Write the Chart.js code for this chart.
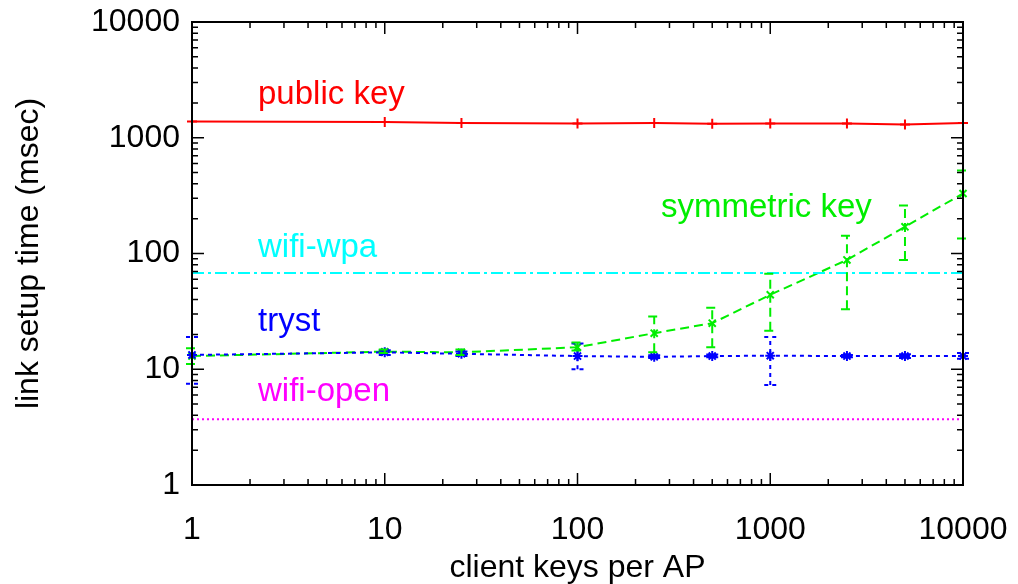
<!DOCTYPE html>
<html>
<head>
<meta charset="utf-8">
<script src="https://cdn.jsdelivr.net/npm/chart.js@4"></script>
<style>
  html, body { margin: 0; padding: 0; background: #fff; }
  #wrap { width: 1018px; height: 584px; }
</style>
</head>
<body>
<div id="wrap"><canvas id="myChart" width="1018" height="584"></canvas></div>
<script>
// client keys per AP
const keys = [1, 10, 25, 100, 250, 500, 1000, 2500, 5000, 10000];

// link setup time (msec)
const publicKey = [1380, 1370, 1340, 1330, 1340, 1320, 1330, 1330, 1300, 1340];

const symmetricKey = [13.0, 14.2, 14.0, 15.5, 20.5, 25, 44, 88, 170, 330];
const symmetricLow = [11.1, 13.8, 13.3, 14.5, 14.0, 15.5, 21.5, 33, 88, 135];
const symmetricHigh = [15.2, 14.8, 14.8, 17.0, 28.5, 34, 67, 142, 260, 520];

const tryst = [13.3, 14.0, 13.6, 13.0, 12.8, 13.0, 13.1, 13.0, 13.0, 13.0];
const trystLow = [7.5, 13.3, 13.0, 10.0, 12.5, 12.7, 7.3, 12.7, 12.5, 12.3];
const trystHigh = [19.0, 14.6, 14.2, 16.7, 13.2, 13.4, 19.0, 13.3, 13.5, 13.8];

const wifiWpa = 68;
const wifiOpen = 3.7;

const decades = [1, 10, 100, 1000, 10000];

const FONT = "'Liberation Sans', Arial, Helvetica, sans-serif";

const labels = [
  { text: "public key", x: 2.2, y: 2340, color: "#ff0000" },
  { text: "wifi-wpa", x: 2.2, y: 111, color: "#00ffff" },
  { text: "tryst", x: 2.2, y: 25.6, color: "#0000ff" },
  { text: "wifi-open", x: 2.2, y: 6.36, color: "#ff00ff" },
  { text: "symmetric key", x: 271, y: 247, color: "#00ee00" },
];

const errorBars = {
  id: "errorBars",
  afterDatasetsDraw(chart) {
    const ctx = chart.ctx;
    const xs = chart.scales.x;
    const ys = chart.scales.y;
    chart.data.datasets.forEach((ds) => {
      if (!ds.low) return;
      ctx.save();
      ctx.strokeStyle = ds.borderColor;
      ctx.lineWidth = 2;
      ctx.setLineDash(ds.borderDash || []);
      ds.data.forEach((p, i) => {
        const px = xs.getPixelForValue(p.x);
        const lo = ys.getPixelForValue(ds.low[i]);
        const hi = ys.getPixelForValue(ds.high[i]);
        ctx.beginPath();
        ctx.moveTo(px, lo);
        ctx.lineTo(px, hi);
        ctx.moveTo(px - 6, lo);
        ctx.lineTo(px + 6, lo);
        ctx.moveTo(px - 6, hi);
        ctx.lineTo(px + 6, hi);
        ctx.stroke();
      });
      ctx.restore();
    });
  },
};

const frame = {
  id: "frame",
  afterDraw(chart) {
    const ctx = chart.ctx;
    const a = chart.chartArea;
    const xs = chart.scales.x;
    const ys = chart.scales.y;
    ctx.save();
    ctx.strokeStyle = "#000";
    ctx.lineWidth = 1.5;
    const minor = [];
    decades.slice(0, 4).forEach((d) => {
      for (let k = 2; k <= 9; k++) minor.push(d * k);
    });
    ctx.beginPath();
    decades.forEach((v) => {
      const px = xs.getPixelForValue(v);
      ctx.moveTo(px, a.bottom); ctx.lineTo(px, a.bottom - 12);
      ctx.moveTo(px, a.top); ctx.lineTo(px, a.top + 12);
      const py = ys.getPixelForValue(v);
      ctx.moveTo(a.left, py); ctx.lineTo(a.left + 12, py);
      ctx.moveTo(a.right, py); ctx.lineTo(a.right - 12, py);
    });
    minor.forEach((v) => {
      const px = xs.getPixelForValue(v);
      ctx.moveTo(px, a.bottom); ctx.lineTo(px, a.bottom - 6);
      ctx.moveTo(px, a.top); ctx.lineTo(px, a.top + 6);
      const py = ys.getPixelForValue(v);
      ctx.moveTo(a.left, py); ctx.lineTo(a.left + 6, py);
      ctx.moveTo(a.right, py); ctx.lineTo(a.right - 6, py);
    });
    ctx.stroke();
    ctx.lineWidth = 2;
    ctx.strokeRect(a.left, a.top, a.right - a.left, a.bottom - a.top);

    ctx.font = "33px " + FONT;
    ctx.textAlign = "left";
    ctx.textBaseline = "middle";
    labels.forEach((l) => {
      ctx.fillStyle = l.color;
      ctx.fillText(l.text, xs.getPixelForValue(l.x), ys.getPixelForValue(l.y));
    });
    ctx.restore();
  },
};

function pts(vals) {
  return keys.map((k, i) => ({ x: k, y: vals[i] }));
}

const ctx = document.getElementById("myChart");
new Chart(ctx, {
  type: "line",
  data: {
    datasets: [
      {
        label: "wifi-open",
        data: [{ x: 1, y: wifiOpen }, { x: 10000, y: wifiOpen }],
        borderColor: "#ff00ff",
        borderWidth: 2,
        borderDash: [2, 3],
        pointRadius: 0,
      },
      {
        label: "wifi-wpa",
        data: [{ x: 1, y: wifiWpa }, { x: 10000, y: wifiWpa }],
        borderColor: "#00ffff",
        borderWidth: 2,
        borderDash: [12, 4, 3, 4],
        pointRadius: 0,
      },
      {
        label: "tryst",
        data: pts(tryst),
        low: trystLow,
        high: trystHigh,
        borderColor: "#0000ff",
        borderWidth: 2,
        borderDash: [4, 4],
        pointStyle: "star",
        pointRadius: 5,
        pointBorderWidth: 2,
        clip: false,
      },
      {
        label: "symmetric key",
        data: pts(symmetricKey),
        low: symmetricLow,
        high: symmetricHigh,
        borderColor: "#00ee00",
        borderWidth: 2,
        borderDash: [9, 5],
        pointStyle: "crossRot",
        pointRadius: 5,
        pointBorderWidth: 2,
        clip: false,
      },
      {
        label: "public key",
        data: pts(publicKey),
        borderColor: "#ff0000",
        borderWidth: 2,
        pointStyle: "cross",
        pointRadius: 5,
        pointBorderWidth: 2,
        clip: false,
      },
    ],
  },
  plugins: [errorBars, frame],
  options: {
    responsive: false,
    animation: false,
    layout: { padding: { top: 22, right: 55, left: 0, bottom: 0 } },
    plugins: { legend: { display: false }, tooltip: { enabled: false } },
    elements: { line: { tension: 0, fill: false } },
    scales: {
      x: {
        type: "logarithmic",
        min: 1,
        max: 10000,
        afterBuildTicks: (s) => { s.ticks = decades.map((v) => ({ value: v })); },
        afterFit: (s) => { s.height = 99; s.paddingLeft = 0; s.paddingRight = 0; },
        grid: { display: false, drawTicks: false },
        border: { display: false },
        ticks: {
          color: "#000",
          font: { family: FONT, size: 32 },
          padding: 26,
          maxRotation: 0,
          autoSkip: false,
          callback: (v) => String(v),
        },
        title: {
          display: true,
          text: "client keys per AP",
          color: "#000",
          font: { family: FONT, size: 32, lineHeight: 1 },
          padding: { top: 0, bottom: 0 },
        },
      },
      y: {
        type: "logarithmic",
        min: 1,
        max: 10000,
        afterBuildTicks: (s) => { s.ticks = decades.map((v) => ({ value: v })); },
        afterFit: (s) => { s.width = 192; s.paddingTop = 0; s.paddingBottom = 0; },
        grid: { display: false, drawTicks: false },
        border: { display: false },
        ticks: {
          color: "#000",
          font: { family: FONT, size: 32 },
          padding: 12,
          autoSkip: false,
          callback: (v) => String(v),
        },
        title: {
          display: true,
          text: "link setup time (msec)",
          color: "#000",
          font: { family: FONT, size: 32, lineHeight: 1 },
          padding: { top: 13, bottom: 0 },
        },
      },
    },
  },
});
</script>
</body>
</html>
